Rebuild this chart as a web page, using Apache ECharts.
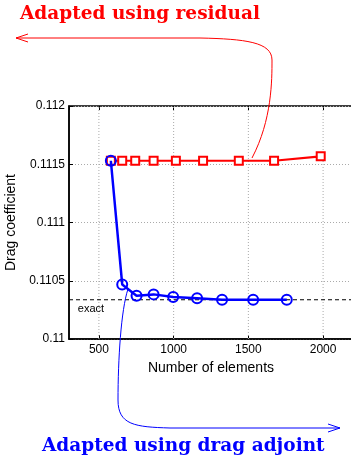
<!DOCTYPE html>
<html lang="en">
<head>
  <meta charset="UTF-8">
  <title>Drag coefficient</title>
  <style>
    html, body { margin: 0; padding: 0; background: #fff; }
    #main { width: 351px; height: 461px; }
  </style>
</head>
<body>
  <div id="main"></div>
  <script src="https://cdn.jsdelivr.net/npm/echarts@6/dist/echarts.min.js"></script>
  <script>
    // data
    var residualX = [580, 656, 743, 866, 1015, 1197, 1436, 1672, 1984]
    var residualY = [0.11153, 0.11153, 0.11153, 0.11153, 0.11153, 0.11153, 0.11153, 0.11153, 0.111568]
    var adjointX = [580, 656, 752, 866, 997, 1157, 1324, 1532, 1757]
    var adjointY = [0.11153, 0.110468, 0.110372, 0.110383, 0.11036, 0.110349, 0.110337, 0.110337, 0.110337]
    var exactValue = 0.110337
    var exactLabelX = 447
    var yTickLabels = ['0.11', '0.1105', '0.111', '0.1115', '0.112']
    var xTicks = [500, 1000, 1500, 2000]
    var xMin = 300, xMax = 2200
    var yMin = 0.11, yMax = 0.112

    function pairs(xs, ys) {
      return xs.map(function (x, i) { return [x, ys[i]] })
    }

    var font = 'Liberation Sans, Arial, sans-serif'
    var myChart = echarts.init(document.getElementById('main'))

    // dotted vertical grid lines at the x ticks
    var gridSeries = xTicks.map(function (t) {
      return {
        type: 'line', silent: true, symbol: 'none', z: 1,
        data: [[t, yMin], [t, yMax]],
        lineStyle: { color: '#aaa', type: [1, 2], width: 1 }
      }
    })

    var option = {
      animation: false,
      grid: {
        left: 69, top: 106, width: 284, height: 233,
        outerBoundsMode: 'none',
        show: true, borderColor: '#000', borderWidth: 1.5
      },
      xAxis: [{
        type: 'value', min: xMin, max: xMax, splitNumber: 4,
        name: 'Number of elements', nameLocation: 'middle', nameGap: 19,
        nameTextStyle: { color: '#000', fontSize: 14, fontFamily: font },
        axisLine: { lineStyle: { color: '#000', width: 1.5 } },
        axisTick: { inside: true, length: 4, lineStyle: { color: '#000' } },
        axisLabel: {
          color: '#000', fontSize: 12, fontFamily: font, margin: 5,
          showMinLabel: false, showMaxLabel: false,
          formatter: function (v) { return xTicks.indexOf(v) >= 0 ? String(v) : '' }
        },
        splitLine: { show: false }
      }, {
        type: 'value', min: xMin, max: xMax, splitNumber: 4, position: 'top',
        axisLine: { show: false },
        axisTick: { inside: true, length: 4, lineStyle: { color: '#000' } },
        axisLabel: { show: false }, splitLine: { show: false }
      }],
      yAxis: {
        type: 'value', min: yMin, max: yMax, interval: 0.0005,
        name: 'Drag coefficient', nameLocation: 'middle', nameGap: 48,
        nameTextStyle: { color: '#000', fontSize: 14, fontFamily: font },
        axisLine: { lineStyle: { color: '#000', width: 1.5 } },
        axisTick: { inside: true, length: 4, lineStyle: { color: '#000' } },
        axisLabel: {
          color: '#000', fontSize: 12, fontFamily: font, margin: 4,
          formatter: function (v) {
            return yTickLabels[Math.round((v - yMin) / 0.0005)]
          }
        },
        splitLine: { show: true, lineStyle: { color: '#aaa', type: [1, 2] } }
      },
      series: gridSeries.concat([
        {
          name: 'exact', type: 'line', silent: true,
          data: [
            [xMin, exactValue],
            {
              value: [exactLabelX, exactValue],
              label: {
                show: true, formatter: 'exact', position: 'bottom', distance: 3,
                color: '#000', fontSize: 11, fontFamily: font
              }
            },
            [xMax, exactValue]
          ],
          symbol: 'circle', symbolSize: 1, showSymbol: true,
          itemStyle: { color: 'rgba(0,0,0,0)' },
          lineStyle: { color: '#000', type: [4, 3], width: 1.2 },
          label: { show: false },
          z: 2
        },
        {
          name: 'residual', type: 'line', data: pairs(residualX, residualY),
          symbol: 'rect', symbolSize: 8,
          lineStyle: { color: '#ff0000', width: 2.2 },
          itemStyle: { color: '#fff', borderColor: '#ff0000', borderWidth: 2 },
          z: 3
        },
        {
          name: 'adjoint', type: 'line', data: pairs(adjointX, adjointY),
          symbol: 'circle', symbolSize: 10,
          lineStyle: { color: '#0000ff', width: 2.5 },
          itemStyle: { color: 'rgba(0,0,0,0)', borderColor: '#0000ff', borderWidth: 2 },
          z: 4
        }
      ]),
      graphic: [
        {
          type: 'text', left: 20, top: 5,
          style: {
            text: 'Adapted using residual', fill: '#ff0000',
            font: 'bold 18.5px "DejaVu Serif", serif'
          }
        },
        {
          type: 'text', left: 42, top: 437,
          style: {
            text: 'Adapted using drag adjoint', fill: '#0000ff',
            font: 'bold 18.5px "DejaVu Serif", serif'
          }
        },
        // red callout curve
        {
          type: 'bezierCurve', silent: true, z: 10,
          shape: { x1: 252, y1: 158, x2: 272, y2: 60, cpx1: 272, cpy1: 120, cpx2: 272, cpy2: 80 },
          style: { stroke: '#ff0000', lineWidth: 1, fill: null }
        },
        {
          type: 'bezierCurve', silent: true, z: 10,
          shape: { x1: 272, y1: 60, x2: 200, y2: 38, cpx1: 272, cpy1: 42, cpx2: 245, cpy2: 39 },
          style: { stroke: '#ff0000', lineWidth: 1, fill: null }
        },
        {
          type: 'line', silent: true, z: 10,
          shape: { x1: 200, y1: 38, x2: 16, y2: 38 },
          style: { stroke: '#ff0000', lineWidth: 1 }
        },
        {
          type: 'polyline', silent: true, z: 10,
          shape: { points: [[28, 34], [16, 38], [28, 42]] },
          style: { stroke: '#ff0000', lineWidth: 1, fill: null }
        },
        // blue callout curve
        {
          type: 'bezierCurve', silent: true, z: 10,
          shape: { x1: 128, y1: 289, x2: 118, y2: 400, cpx1: 121, cpy1: 310, cpx2: 118, cpy2: 360 },
          style: { stroke: '#0000ff', lineWidth: 1, fill: null }
        },
        {
          type: 'bezierCurve', silent: true, z: 10,
          shape: { x1: 118, y1: 400, x2: 170, y2: 428, cpx1: 118, cpy1: 425, cpx2: 135, cpy2: 427 },
          style: { stroke: '#0000ff', lineWidth: 1, fill: null }
        },
        {
          type: 'line', silent: true, z: 10,
          shape: { x1: 170, y1: 428, x2: 340, y2: 428 },
          style: { stroke: '#0000ff', lineWidth: 1 }
        },
        {
          type: 'polyline', silent: true, z: 10,
          shape: { points: [[328, 424], [340, 428], [328, 432]] },
          style: { stroke: '#0000ff', lineWidth: 1, fill: null }
        }
      ]
    }

    myChart.setOption(option)
  </script>
</body>
</html>
